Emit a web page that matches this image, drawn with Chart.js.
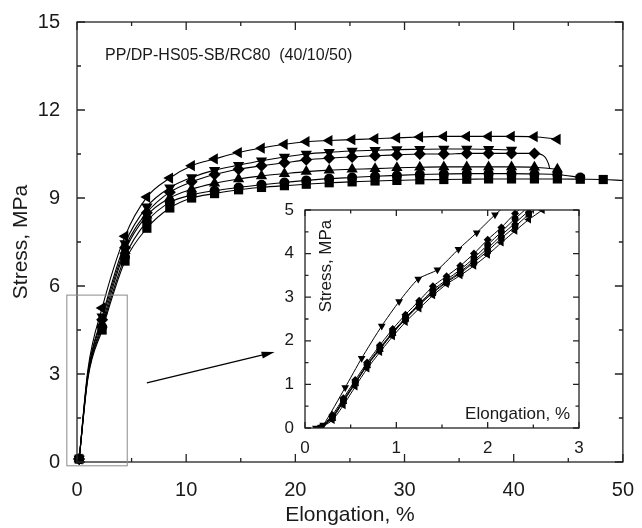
<!DOCTYPE html>
<html>
<head>
<meta charset="utf-8">
<script src="https://cdn.jsdelivr.net/npm/chart.js@4.4.1/dist/chart.umd.min.js"></script>
<style>
  body { margin: 0; background: #fff; }
  #wrap { position: relative; width: 642px; height: 528px; }
  #mainChart { position: absolute; left: 0; top: 0; }
  #insetChart { position: absolute; left: 262px; top: 196px; }
</style>
</head>
<body>
<div id="wrap">
  <canvas id="mainChart" width="642" height="528"></canvas>
  <canvas id="insetChart" width="330" height="262"></canvas>
</div>
<script>
// main plot: elongation (%) where markers sit, shared by all curves
const elong = [0.2, 2.3, 4.4, 6.4, 8.5, 10.5, 12.6, 14.8, 16.9, 19.0, 21.0, 23.1, 25.2, 27.3, 29.3, 31.4, 33.6, 35.7, 37.7, 39.8, 41.9, 44.0, 46.1, 48.2];
const kneeStress = [3.15, 3.05, 3.0, 2.95, 2.9, 2.85];   // unmarked point at 1 %
const stressLeftTri = [0.1, 5.25, 7.7, 9.03, 9.68, 10.1, 10.33, 10.55, 10.7, 10.83, 10.92, 10.96, 10.99, 11.02, 11.05, 11.08, 11.1, 11.1, 11.1, 11.1, 11.09, 11.0];
const stressDownTri = [0.1, 4.95, 7.45, 8.7, 9.35, 9.7, 9.95, 10.12, 10.27, 10.4, 10.5, 10.56, 10.6, 10.63, 10.65, 10.66, 10.67, 10.67, 10.66, 10.64];
const stressDiamond = [0.1, 4.85, 7.3, 8.5, 9.2, 9.55, 9.8, 9.98, 10.1, 10.2, 10.3, 10.36, 10.4, 10.44, 10.47, 10.5, 10.5, 10.52, 10.52, 10.52, 10.52];
const tailDiamond = [[42.8, 10.42], [43.2, 10.15], [43.3, 10.0]];
const stressUpTri = [0.1, 4.7, 7.2, 8.4, 9.0, 9.3, 9.5, 9.65, 9.75, 9.83, 9.9, 9.95, 9.98, 10.0, 10.03, 10.05, 10.06, 10.06, 10.06, 10.06, 10.05, 9.98];
const stressCircle = [0.1, 4.6, 7.0, 8.2, 8.85, 9.1, 9.25, 9.36, 9.45, 9.53, 9.6, 9.66, 9.7, 9.74, 9.77, 9.8, 9.82, 9.83, 9.83, 9.83, 9.82, 9.8, 9.7];
const stressSquare = [0.1, 4.5, 6.85, 7.97, 8.66, 9.0, 9.15, 9.28, 9.36, 9.42, 9.47, 9.52, 9.55, 9.58, 9.6, 9.62, 9.63, 9.64, 9.65, 9.65, 9.65, 9.65, 9.64, 9.63];
const tailSquare = [[50.0, 9.6]];

// inset: first 3 % of the curves
const insetXTop = [0.12, 0.2, 0.44, 0.62, 0.84, 1.03, 1.24, 1.45, 1.68, 1.88, 2.08, 2.25];
const insetTop = [0, 0.07, 0.93, 1.6, 2.34, 2.9, 3.42, 3.63, 4.1, 4.48, 4.89, 5.2];
const insetX = [0.17, 0.3, 0.42, 0.55, 0.68, 0.82, 0.96, 1.1, 1.25, 1.4, 1.55, 1.7, 1.85, 2.0, 2.15, 2.3, 2.45, 2.6];
const insetDiamond = [0, 0.3, 0.68, 1.1, 1.5, 1.9, 2.27, 2.6, 2.92, 3.25, 3.48, 3.72, 4.0, 4.32, 4.6, 4.92, 5.2, 5.5];
const insetLeftTri = [0, 0.18, 0.52, 0.95, 1.36, 1.74, 2.1, 2.43, 2.74, 3.04, 3.3, 3.5, 3.72, 3.97, 4.25, 4.52, 4.78, 5.0];
const insetCircle = [0, 0.26, 0.64, 1.05, 1.46, 1.84, 2.2, 2.53, 2.85, 3.16, 3.4, 3.63, 3.9, 4.2, 4.5, 4.8, 5.08, 5.35];
const insetUpTri = [0, 0.22, 0.6, 1.02, 1.43, 1.8, 2.17, 2.5, 2.82, 3.12, 3.36, 3.58, 3.84, 4.12, 4.42, 4.7, 4.98, 5.25];
const insetSquare = [0, 0.24, 0.62, 1.03, 1.44, 1.82, 2.18, 2.5, 2.82, 3.1, 3.34, 3.55, 3.8, 4.06, 4.35, 4.62, 4.9, 5.15];

const FONT = "'Liberation Sans', Arial, sans-serif";
const INK = '#1a1a1a';

function series(stress, knee, tail) {
    const pts = stress.map((y, i) => ({ x: elong[i], y: y, m: true }));
    pts.splice(1, 0, { x: 1.0, y: knee, m: false });
    (tail || []).forEach(p => pts.push({ x: p[0], y: p[1], m: false }));
    return pts;
}

function mainSet(data, style, rot, r) {
    return {
        data: data,
        borderColor: '#000',
        borderWidth: 1.1,
        backgroundColor: '#000',
        pointBackgroundColor: '#000',
        pointBorderColor: '#000',
        pointBorderWidth: 0,
        pointStyle: style,
        pointRotation: rot,
        pointRadius: ctx => (ctx.raw && ctx.raw.m ? r : 0),
        cubicInterpolationMode: 'monotone',
        clip: false
    };
}

function insetSet(xs, ys, style, rot, r) {
    return {
        data: ys.map((y, i) => ({ x: xs[i], y: y })),
        borderColor: '#000',
        borderWidth: 1,
        pointBackgroundColor: '#000',
        pointBorderColor: '#000',
        pointBorderWidth: 0,
        pointStyle: style,
        pointRotation: rot,
        pointRadius: r,
        tension: 0.2
    };
}

// frame with inward ticks on all four sides
function framePlugin(xMajor, xMinor, yMajor, yMinor, big, small) {
    return {
        id: 'frame',
        afterDraw(chart) {
            const ctx = chart.ctx, a = chart.chartArea;
            const sx = chart.scales.x, sy = chart.scales.y;
            ctx.save();
            ctx.strokeStyle = '#222';
            ctx.lineWidth = 1.3;
            ctx.strokeRect(a.left, a.top, a.right - a.left, a.bottom - a.top);
            ctx.beginPath();
            for (let v = sx.min; v <= sx.max + 1e-9; v += xMinor) {
                const len = Math.abs(v / xMajor - Math.round(v / xMajor)) < 1e-6 ? big : small;
                const px = sx.getPixelForValue(v);
                ctx.moveTo(px, a.bottom); ctx.lineTo(px, a.bottom - len);
                ctx.moveTo(px, a.top); ctx.lineTo(px, a.top + len);
            }
            for (let v = sy.min; v <= sy.max + 1e-9; v += yMinor) {
                const len = Math.abs(v / yMajor - Math.round(v / yMajor)) < 1e-6 ? big : small;
                const py = sy.getPixelForValue(v);
                ctx.moveTo(a.left, py); ctx.lineTo(a.left + len, py);
                ctx.moveTo(a.right, py); ctx.lineTo(a.right - len, py);
            }
            ctx.stroke();
            ctx.restore();
        }
    };
}

const mainNotes = {
    id: 'mainNotes',
    afterDraw(chart) {
        const ctx = chart.ctx, sx = chart.scales.x, sy = chart.scales.y;
        ctx.save();
        // sample name
        ctx.fillStyle = INK;
        ctx.font = '16px ' + FONT;
        ctx.textBaseline = 'middle';
        ctx.fillText('PP/DP-HS05-SB/RC80  (40/10/50)', 105, 56);
        // box round the zoomed region
        const x0 = sx.getPixelForValue(-0.93), x1 = sx.getPixelForValue(4.6);
        const y0 = sy.getPixelForValue(5.69), y1 = sy.getPixelForValue(-0.13);
        ctx.strokeStyle = '#8a8a8a';
        ctx.lineWidth = 1;
        ctx.strokeRect(x0, y0, x1 - x0, y1 - y0);
        // arrow to the inset
        const ax = sx.getPixelForValue(6.4), ay = sy.getPixelForValue(2.7);
        const bx = sx.getPixelForValue(18.1), by = sy.getPixelForValue(3.75);
        const ang = Math.atan2(by - ay, bx - ax);
        ctx.strokeStyle = '#000';
        ctx.lineWidth = 1.2;
        ctx.beginPath();
        ctx.moveTo(ax, ay);
        ctx.lineTo(bx - 10 * Math.cos(ang), by - 10 * Math.sin(ang));
        ctx.stroke();
        ctx.fillStyle = '#000';
        ctx.beginPath();
        ctx.moveTo(bx, by);
        ctx.lineTo(bx - 13 * Math.cos(ang) + 3.5 * Math.sin(ang), by - 13 * Math.sin(ang) - 3.5 * Math.cos(ang));
        ctx.lineTo(bx - 13 * Math.cos(ang) - 3.5 * Math.sin(ang), by - 13 * Math.sin(ang) + 3.5 * Math.cos(ang));
        ctx.closePath();
        ctx.fill();
        ctx.restore();
    }
};

new Chart(document.getElementById('mainChart'), {
    type: 'line',
    data: {
        datasets: [
            mainSet(series(stressLeftTri, kneeStress[0]), 'triangle', -90, 6.5),
            mainSet(series(stressDownTri, kneeStress[1]), 'triangle', 180, 6.5),
            mainSet(series(stressDiamond, kneeStress[2], tailDiamond), 'rectRot', 0, 6),
            mainSet(series(stressUpTri, kneeStress[3]), 'triangle', 0, 6.5),
            mainSet(series(stressCircle, kneeStress[4]), 'circle', 0, 5),
            mainSet(series(stressSquare, kneeStress[5], tailSquare), 'rect', 0, 6.5)
        ]
    },
    options: {
        responsive: false,
        animation: false,
        events: [],
        layout: { padding: { left: 0, right: 14, top: 22, bottom: 0 } },
        plugins: { legend: { display: false }, tooltip: { enabled: false } },
        scales: {
            x: {
                type: 'linear', min: 0, max: 50,
                grid: { display: false }, border: { display: false },
                ticks: { stepSize: 10, autoSkip: false, maxRotation: 0, padding: 8, color: INK, font: { family: FONT, size: 20 } },
                title: { display: true, text: 'Elongation, %', color: INK, font: { family: FONT, size: 21 }, padding: { top: 4, bottom: 0 } },
                afterFit(s) { s.height = 66; }
            },
            y: {
                type: 'linear', min: 0, max: 15,
                grid: { display: false }, border: { display: false },
                ticks: { stepSize: 3, autoSkip: false, padding: 9, color: INK, font: { family: FONT, size: 20 } },
                title: { display: true, text: 'Stress, MPa', color: INK, font: { family: FONT, size: 21 }, padding: { top: 9, bottom: 0 } },
                afterFit(s) { s.width = 77; }
            }
        }
    },
    plugins: [framePlugin(10, 5, 3, 1.5, 8, 4), mainNotes]
});

const insetNotes = {
    id: 'insetNotes',
    beforeDraw(chart) {
        const a = chart.chartArea, ctx = chart.ctx;
        ctx.save();
        ctx.fillStyle = '#fff';
        ctx.fillRect(a.left, a.top, a.right - a.left, a.bottom - a.top);
        ctx.restore();
    },
    afterDraw(chart) {
        const a = chart.chartArea, ctx = chart.ctx;
        ctx.save();
        ctx.fillStyle = INK;
        ctx.font = '17px ' + FONT;
        ctx.textBaseline = 'middle';
        ctx.textAlign = 'right';
        ctx.fillText('Elongation, %', a.right - 9, a.bottom - 14);
        ctx.translate(a.left + 21, a.top + 56);
        ctx.rotate(-Math.PI / 2);
        ctx.textAlign = 'center';
        ctx.fillText('Stress, MPa', 0, 0);
        ctx.restore();
    }
};

new Chart(document.getElementById('insetChart'), {
    type: 'line',
    data: {
        datasets: [
            insetSet(insetXTop, insetTop, 'triangle', 180, 4.5),
            insetSet(insetX, insetDiamond, 'rectRot', 0, 4),
            insetSet(insetX, insetCircle, 'circle', 0, 3.5),
            insetSet(insetX, insetUpTri, 'triangle', 0, 4.5),
            insetSet(insetX, insetSquare, 'rect', 0, 4.5),
            insetSet(insetX, insetLeftTri, 'triangle', -90, 4.5)
        ]
    },
    options: {
        responsive: false,
        animation: false,
        events: [],
        layout: { padding: { left: 0, right: 13, top: 14, bottom: 0 } },
        plugins: { legend: { display: false }, tooltip: { enabled: false } },
        scales: {
            x: {
                type: 'linear', min: 0, max: 3,
                grid: { display: false }, border: { display: false },
                ticks: { stepSize: 1, autoSkip: false, maxRotation: 0, padding: 2, color: INK, font: { family: FONT, size: 17 } },
                afterFit(s) { s.height = 30; }
            },
            y: {
                type: 'linear', min: 0, max: 5,
                grid: { display: false }, border: { display: false },
                ticks: { stepSize: 1, autoSkip: false, padding: 3, color: INK, font: { family: FONT, size: 17 } },
                afterFit(s) { s.width = 43; }
            }
        }
    },
    plugins: [framePlugin(1, 0.5, 1, 0.5, 6, 3.5), insetNotes]
});
</script>
</body>
</html>
